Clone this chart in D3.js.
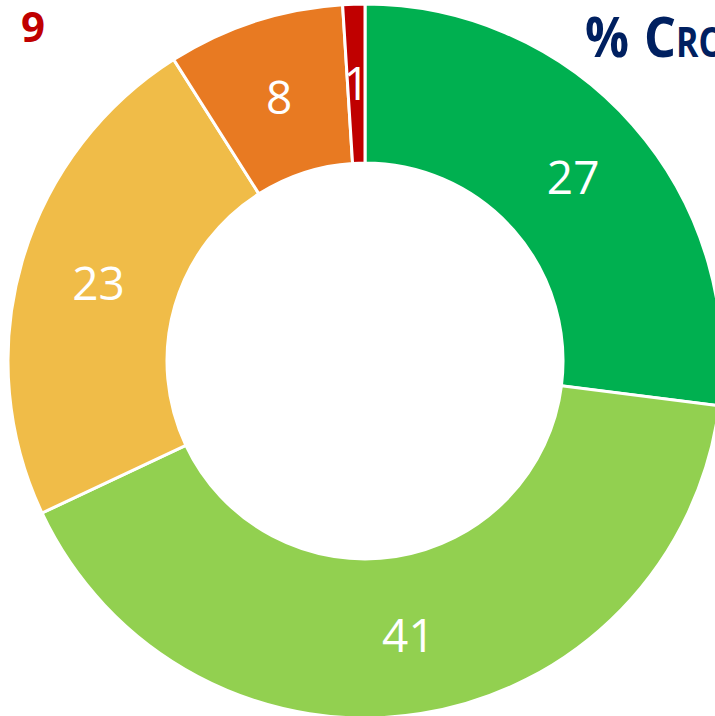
<!DOCTYPE html>
<html>
<head>
<meta charset="utf-8">
<script src="https://cdn.jsdelivr.net/npm/d3@7"></script>
<style>
  body { margin: 0; background: #fff; overflow: hidden; }
  #chart { width: 715px; height: 716px; }
</style>
</head>
<body>
<div id="chart"></div>
<script>
// slices clockwise from 12 o'clock
var categories = ['A', 'B', 'C', 'D', 'E'];
var values = [27, 41, 23, 8, 1];
var colors = ['#00B050', '#92D050', '#F0BC48', '#E87A22', '#C00000'];

var width = 715, height = 716;
var cx = 365, cy = 361;
var outerR = 357, innerR = 198;

var svg = d3.select('#chart').append('svg')
    .attr('width', width)
    .attr('height', height);

var pie = d3.pie().sort(null).value(function(d) { return d; });
var arc = d3.arc().innerRadius(innerR).outerRadius(outerR);

var g = svg.append('g').attr('transform', 'translate(' + cx + ',' + cy + ')');

var slices = g.selectAll('g.slice')
    .data(pie(values))
    .enter().append('g')
    .attr('class', 'slice');

slices.append('path')
    .attr('d', arc)
    .attr('fill', function(d, i) { return colors[i]; })
    .attr('stroke', '#fff')
    .attr('stroke-width', 3);

slices.append('text')
    .attr('transform', function(d) { return 'translate(' + arc.centroid(d) + ')'; })
    .attr('text-anchor', 'middle')
    .attr('dy', '0.36em')
    .attr('fill', '#fff')
    .attr('font-family', 'Open Sans, sans-serif')
    .attr('font-size', 46)
    .text(function(d) { return d.data; });

// header fragments (cropped in the original)
svg.append('text')
    .attr('x', 21)
    .attr('y', 42)
    .attr('fill', '#C00000')
    .attr('font-family', 'Open Sans, sans-serif')
    .attr('font-weight', 'bold')
    .attr('font-size', 42)
    .text('9');

// title pieces, squeezed a little to mimic a narrower font
var titleParts = [
    {t: '%', x: 585, size: 56, len: 44},
    {t: 'C', x: 644, size: 56, len: 32},
    {t: 'ROISSANCE', x: 676, size: 41, len: 190}
];
svg.selectAll('text.title')
    .data(titleParts)
    .enter().append('text')
    .attr('class', 'title')
    .attr('x', function(d) { return d.x; })
    .attr('y', 57)
    .attr('fill', '#002060')
    .attr('font-family', 'Open Sans, sans-serif')
    .attr('font-weight', 'bold')
    .attr('font-size', function(d) { return d.size; })
    .attr('textLength', function(d) { return d.len; })
    .attr('lengthAdjust', 'spacingAndGlyphs')
    .text(function(d) { return d.t; });
</script>
</body>
</html>
